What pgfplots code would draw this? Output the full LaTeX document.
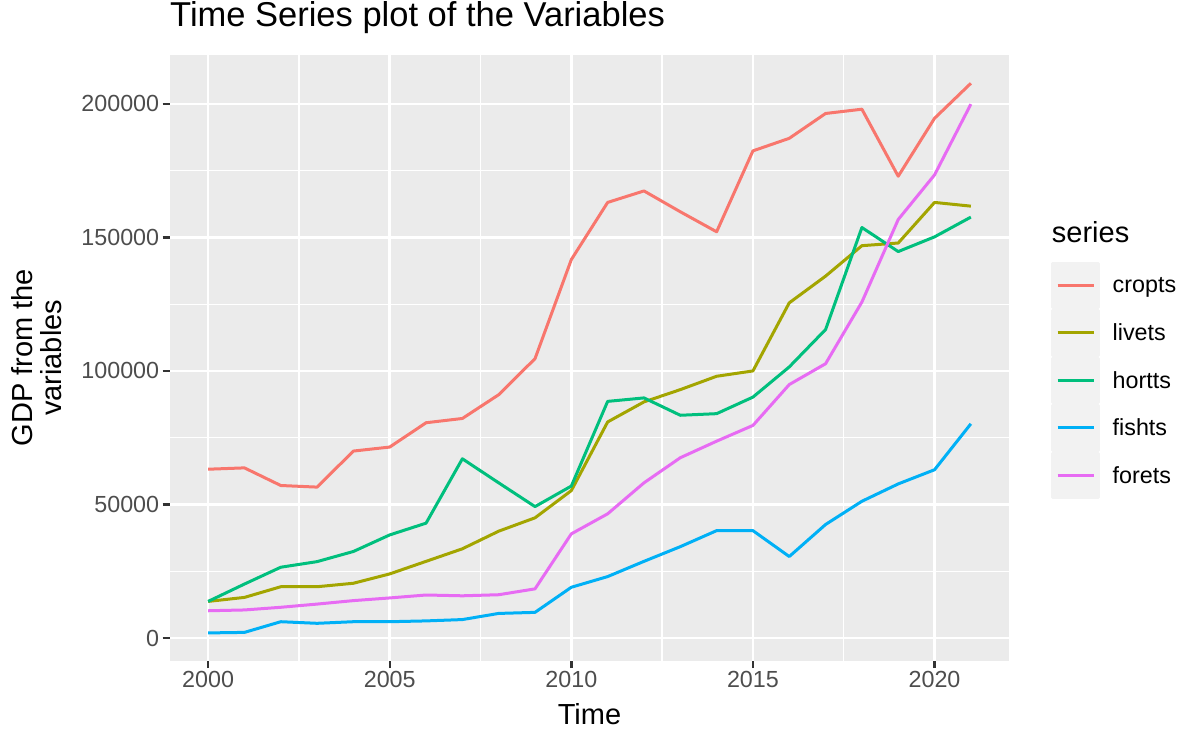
\documentclass[border=0pt]{standalone}
\usepackage{fontspec}
\setmainfont{Liberation Sans}
\usepackage{pgfplots}
\pgfplotsset{compat=1.18}

\definecolor{cropcol}{HTML}{F8766D}
\definecolor{livecol}{HTML}{A3A500}
\definecolor{hortcol}{HTML}{00BF7D}
\definecolor{fishcol}{HTML}{00B0F6}
\definecolor{forecol}{HTML}{E76BF3}
\definecolor{panelbg}{HTML}{EBEBEB}
\definecolor{keybg}{HTML}{F2F2F2}
\definecolor{gray30}{HTML}{4D4D4D}
\definecolor{gray20}{HTML}{333333}

\begin{document}
\begin{tikzpicture}
\begin{axis}[
  scale only axis, width=839pt, height=605.7pt,
  xmin=1998.95, xmax=2022.05, ymin=-8500, ymax=218300,
  axis background/.style={fill=panelbg},
  axis line style={draw=none},
  grid=both,
  major grid style={white, line width=2.6pt},
  minor grid style={white, line width=1.3pt},
  minor x tick num=1, minor y tick num=1,
  xtick={2000,2005,2010,2015,2020},
  ytick={0,50000,100000,150000,200000},
  xtick pos=bottom, ytick pos=left,
  tick align=outside,
  major tick length=7.3pt, minor tick length=0pt,
  tick style={gray20, line width=2.4pt},
  scaled y ticks=false,
  /pgf/number format/.cd, fixed, 1000 sep={}, assume math mode=true, /pgfplots/.cd,
  tick label style={font=\fontsize{23.3}{26}\selectfont, text=gray30},
  title={Time Series plot of the Variables},
  title style={at={(axis description cs:0,1)}, anchor=base west, yshift=22.3pt, inner sep=0pt, font=\fontsize{34.5}{40}\selectfont},
  xlabel={Time},
  xlabel style={at={(axis description cs:0.5,-0.1045)}, anchor=base, inner sep=0pt, font=\fontsize{29}{29}\selectfont},
  ylabel={GDP from the\\variables},
  ylabel style={at={(axis description cs:-0.1287,0.5)}, anchor=south, inner sep=0pt, align=center, font=\fontsize{29}{29}\selectfont},
  legend style={at={(axis description cs:1.0501,0.6588)}, anchor=north west, draw=none, fill=none,
    inner sep=0pt, outer sep=0pt, row sep=0pt, column sep=13pt,
    nodes={inner sep=0pt}, font=\fontsize{23.3}{26}\selectfont},
  legend cell align=left,
  legend image code/.code={
    \fill[keybg] (0pt,-22.25pt) rectangle (45.7pt,22.25pt);
    \draw[line width=3pt] (5pt,0pt) -- (41pt,0pt);
  },
  every axis plot/.append style={line width=3pt, line join=round, mark=none},
]
\addplot[cropcol] coordinates {
(2000,63200)(2001,63700)(2002,57100)(2003,56500)(2004,70000)(2005,71500)
(2006,80600)(2007,82200)(2008,91100)(2009,104600)(2010,141700)(2011,163100)
(2012,167400)(2013,159600)(2014,152100)(2015,182400)(2016,187100)(2017,196400)
(2018,198000)(2019,172900)(2020,194600)(2021,207700)};
\addplot[livecol] coordinates {
(2000,13700)(2001,15200)(2002,19200)(2003,19200)(2004,20500)(2005,24000)
(2006,28700)(2007,33400)(2008,40000)(2009,45000)(2010,55200)(2011,80900)
(2012,88400)(2013,93000)(2014,98000)(2015,100000)(2016,125500)(2017,135500)
(2018,146900)(2019,147900)(2020,163100)(2021,161700)};
\addplot[hortcol] coordinates {
(2000,13700)(2001,20200)(2002,26500)(2003,28600)(2004,32400)(2005,38600)
(2006,43000)(2007,67100)(2008,58100)(2009,49200)(2010,56900)(2011,88600)
(2012,89900)(2013,83400)(2014,84000)(2015,90200)(2016,101500)(2017,115500)
(2018,153700)(2019,144700)(2020,150200)(2021,157600)};
\addplot[fishcol] coordinates {
(2000,1900)(2001,2100)(2002,6100)(2003,5500)(2004,6100)(2005,6100)
(2006,6400)(2007,6900)(2008,9200)(2009,9600)(2010,19000)(2011,23000)
(2012,28700)(2013,34200)(2014,40200)(2015,40200)(2016,30500)(2017,42500)
(2018,51200)(2019,57700)(2020,63000)(2021,80200)};
\addplot[forecol] coordinates {
(2000,10200)(2001,10500)(2002,11500)(2003,12700)(2004,14000)(2005,15000)
(2006,16100)(2007,15800)(2008,16200)(2009,18400)(2010,39000)(2011,46500)
(2012,58100)(2013,67500)(2014,73700)(2015,79600)(2016,94900)(2017,102700)
(2018,125800)(2019,156700)(2020,173400)(2021,199900)};
\legend{cropts,livets,hortts,fishts,forets}
\end{axis}
\node[anchor=base west, inner sep=0pt, font=\fontsize{29}{29}\selectfont]
  at ([shift={(881.7pt,418pt)}]current axis.south west) {series};
\pgfresetboundingbox
\path (-170pt,-73.3pt) rectangle (1024pt,660.7pt);
\end{tikzpicture}
\end{document}
